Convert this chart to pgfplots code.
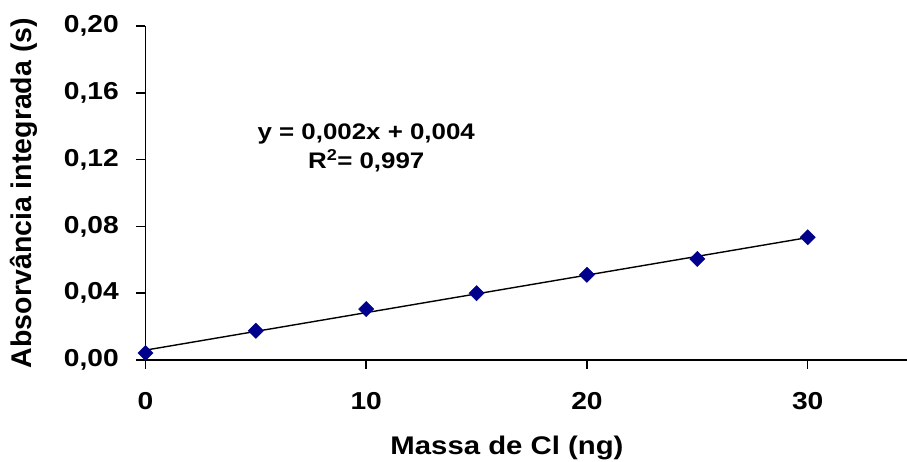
\documentclass[border=0pt]{standalone}
\usepackage{fontspec}
\setmainfont{Liberation Sans}[FakeStretch=1.15]
\newfontfamily\ylabfont{Liberation Sans}
\usepackage{pgfplots}
\pgfplotsset{compat=1.18}
\definecolor{mkblue}{RGB}{0,0,140}
\begin{document}
\begin{tikzpicture}
\path[use as bounding box] (-145.5pt,-102pt) rectangle (761.5pt,360pt);
\begin{axis}[
  name=ax,
  scale only axis,
  width=761.5pt, height=334pt,
  xmin=0, xmax=34.5, ymin=0, ymax=0.2,
  axis x line=bottom, axis y line=left,
  axis line style={-, line width=1.7pt},
  xtick={0,10,20,30},
  ytick={0,0.04,0.08,0.12,0.16,0.20},
  minor tick num=0,
  tick align=outside,
  major tick length=9pt,
  tick style={line width=1.5pt, black},
  scaled y ticks=false,
  /pgf/number format/assume math mode=true,
  ticklabel style={font=\bfseries\fontsize{24.5}{28}\selectfont, inner sep=0pt},
  xticklabel style={anchor=north, yshift=-23pt},
  yticklabel style={anchor=east, xshift=-17.5pt, /pgf/number format/.cd, fixed, fixed zerofill, precision=2, use comma},
  xlabel={Massa de Cl (ng)},
  ylabel={Absorvância integrada (s)},
  xlabel style={font=\bfseries\fontsize{25.5}{30}\selectfont, at={(axis description cs:0.4747,-0.2635)}, anchor=center},
  ylabel style={font=\ylabfont\bfseries\fontsize{28.5}{32}\selectfont, at={(axis description cs:-0.1596,0.5)}, anchor=center},
  clip=false,
]
\addplot[black, line width=1.4pt] coordinates {(0,0.0059) (30,0.0733)};
\addplot[only marks, mark=square*, mark size=5.4pt, mark options={rotate=45, fill=mkblue, draw=mkblue}]
  coordinates {(0,0.0042) (5,0.0175) (10,0.0305) (15,0.0400) (20,0.0510) (25,0.0605) (30,0.0735)};
\node[align=center, font=\bfseries\fontsize{22.5}{28.5}\selectfont] at (axis cs:10,0.127)
  {y = 0,002x + 0,004\\R\textsuperscript{2}= 0,997};
\end{axis}
\end{tikzpicture}
\end{document}
